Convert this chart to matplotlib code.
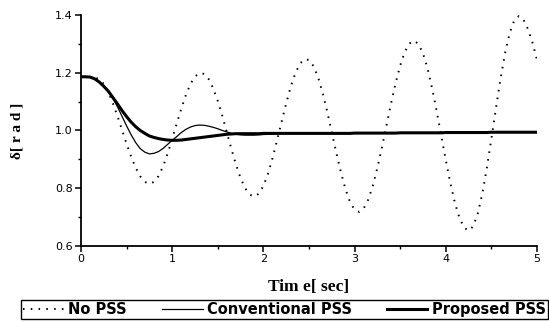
import matplotlib
matplotlib.use('Agg')
import matplotlib.pyplot as plt
from matplotlib.ticker import MultipleLocator

# time axis [sec], sampled every 0.05 s
time = [round(i * 0.05, 2) for i in range(101)]

# rotor angle delta [rad]
no_pss = [
    1.186, 1.186, 1.185, 1.184, 1.178, 1.161, 1.132, 1.094, 1.050, 1.002,
    0.954, 0.909, 0.871, 0.841, 0.822, 0.815, 0.822, 0.842, 0.876, 0.920,
    0.971, 1.024, 1.076, 1.123, 1.161, 1.187, 1.199, 1.196, 1.178, 1.146,
    1.102, 1.050, 0.993, 0.935, 0.882, 0.835, 0.800, 0.778, 0.771, 0.781,
    0.808, 0.850, 0.904, 0.966, 1.031, 1.094, 1.152, 1.198, 1.231, 1.247,
    1.244, 1.223, 1.184, 1.130, 1.065, 0.994, 0.922, 0.855, 0.797, 0.752,
    0.726, 0.718, 0.730, 0.761, 0.809, 0.871, 0.942, 1.018, 1.094, 1.165,
    1.225, 1.272, 1.301, 1.311, 1.300, 1.267, 1.215, 1.146, 1.067, 0.982,
    0.897, 0.818, 0.749, 0.697, 0.664, 0.653, 0.668, 0.712, 0.781, 0.870,
    0.972, 1.077, 1.179, 1.268, 1.337, 1.381, 1.396, 1.385, 1.352, 1.305,
    1.245,
]

conv_pss = [
    1.186, 1.186, 1.185, 1.179, 1.168, 1.153, 1.134, 1.112, 1.082, 1.049,
    1.016, 0.985, 0.958, 0.937, 0.925, 0.919, 0.921, 0.927, 0.938, 0.952,
    0.966, 0.979, 0.993, 1.004, 1.012, 1.017, 1.019, 1.018, 1.015, 1.011,
    1.006, 1.000, 0.995, 0.990, 0.987, 0.985, 0.984, 0.984, 0.984, 0.985,
    0.986, 0.987, 0.988, 0.989, 0.990, 0.990, 0.990, 0.990, 0.990, 0.990,
    0.990, 0.990, 0.990, 0.990, 0.990, 0.990, 0.990, 0.990, 0.990, 0.990,
    0.991, 0.991, 0.991, 0.991, 0.991, 0.991, 0.991, 0.991, 0.991, 0.991,
    0.992, 0.992, 0.992, 0.992, 0.992, 0.992, 0.992, 0.992, 0.992, 0.992,
    0.993, 0.993, 0.993, 0.993, 0.993, 0.993, 0.993, 0.993, 0.993, 0.993,
    0.994, 0.994, 0.994, 0.994, 0.994, 0.994, 0.994, 0.994, 0.994, 0.994,
    0.994,
]

prop_pss = [
    1.186, 1.186, 1.185, 1.179, 1.168, 1.153, 1.136, 1.114, 1.092, 1.069,
    1.048, 1.029, 1.013, 1.000, 0.990, 0.981, 0.976, 0.972, 0.969, 0.967,
    0.966, 0.966, 0.967, 0.969, 0.971, 0.973, 0.975, 0.977, 0.979, 0.981,
    0.983, 0.985, 0.987, 0.988, 0.989, 0.989, 0.989, 0.989, 0.989, 0.989,
    0.990, 0.990, 0.990, 0.990, 0.990, 0.990, 0.990, 0.990, 0.990, 0.990,
    0.990, 0.990, 0.990, 0.990, 0.990, 0.990, 0.990, 0.990, 0.990, 0.990,
    0.991, 0.991, 0.991, 0.991, 0.991, 0.991, 0.991, 0.991, 0.991, 0.991,
    0.992, 0.992, 0.992, 0.992, 0.992, 0.992, 0.992, 0.992, 0.992, 0.992,
    0.993, 0.993, 0.993, 0.993, 0.993, 0.993, 0.993, 0.993, 0.993, 0.993,
    0.994, 0.994, 0.994, 0.994, 0.994, 0.994, 0.994, 0.994, 0.994, 0.994,
    0.994,
]

W, H = 549, 322
fig = plt.figure(figsize=(W / 100, H / 100), dpi=100)
ax = fig.add_axes([81 / W, 1 - 246 / H, (537 - 81) / W, (246 - 15) / H])

ax.plot(time, no_pss, color='k', lw=1.4, linestyle=(0, (0.8, 3.2)), label='No PSS')
ax.plot(time, conv_pss, color='k', lw=0.9, label='Conventional PSS')
ax.plot(time, prop_pss, color='k', lw=2.2, label='Proposed PSS')

ax.set_xlim(0, 5)
ax.set_ylim(0.6, 1.4)
ax.xaxis.set_major_locator(MultipleLocator(1))
ax.xaxis.set_minor_locator(MultipleLocator(0.5))
ax.yaxis.set_major_locator(MultipleLocator(0.2))
ax.yaxis.set_minor_locator(MultipleLocator(0.1))
ax.yaxis.set_major_formatter(plt.FuncFormatter(lambda v, p: '%.1f' % v))

for s in ['top', 'right']:
    ax.spines[s].set_visible(False)
for s in ['left', 'bottom']:
    ax.spines[s].set_linewidth(1.3)

ax.tick_params(which='major', direction='out', length=4, width=1.1, labelsize=8, pad=2)
ax.tick_params(which='minor', direction='out', length=2.5, width=1.0)

fig.text(309 / W, 1 - 287 / H, 'Tim e[ sec]', ha='center', va='center',
         fontfamily='Liberation Serif', fontweight='bold', fontsize=12.5)
fig.text(17 / W, 1 - 131 / H, 'δ[ r a d ]', ha='center', va='center', rotation=90,
         fontfamily='Liberation Serif', fontweight='bold', fontsize=11)

leg = fig.legend(loc='center', bbox_to_anchor=(21 / W, 1 - 318 / H, 527 / W, 17 / H),
                 mode='expand', ncol=3, frameon=True, fancybox=False, edgecolor='k',
                 prop=dict(family='DejaVu Sans', weight='bold', size=10.5),
                 handlelength=2.8, borderpad=0.15, handletextpad=0.3, borderaxespad=0)
leg.get_frame().set_linewidth(1.0)
leg.get_frame().set_alpha(1)

fig.savefig('out.png', dpi=100)
